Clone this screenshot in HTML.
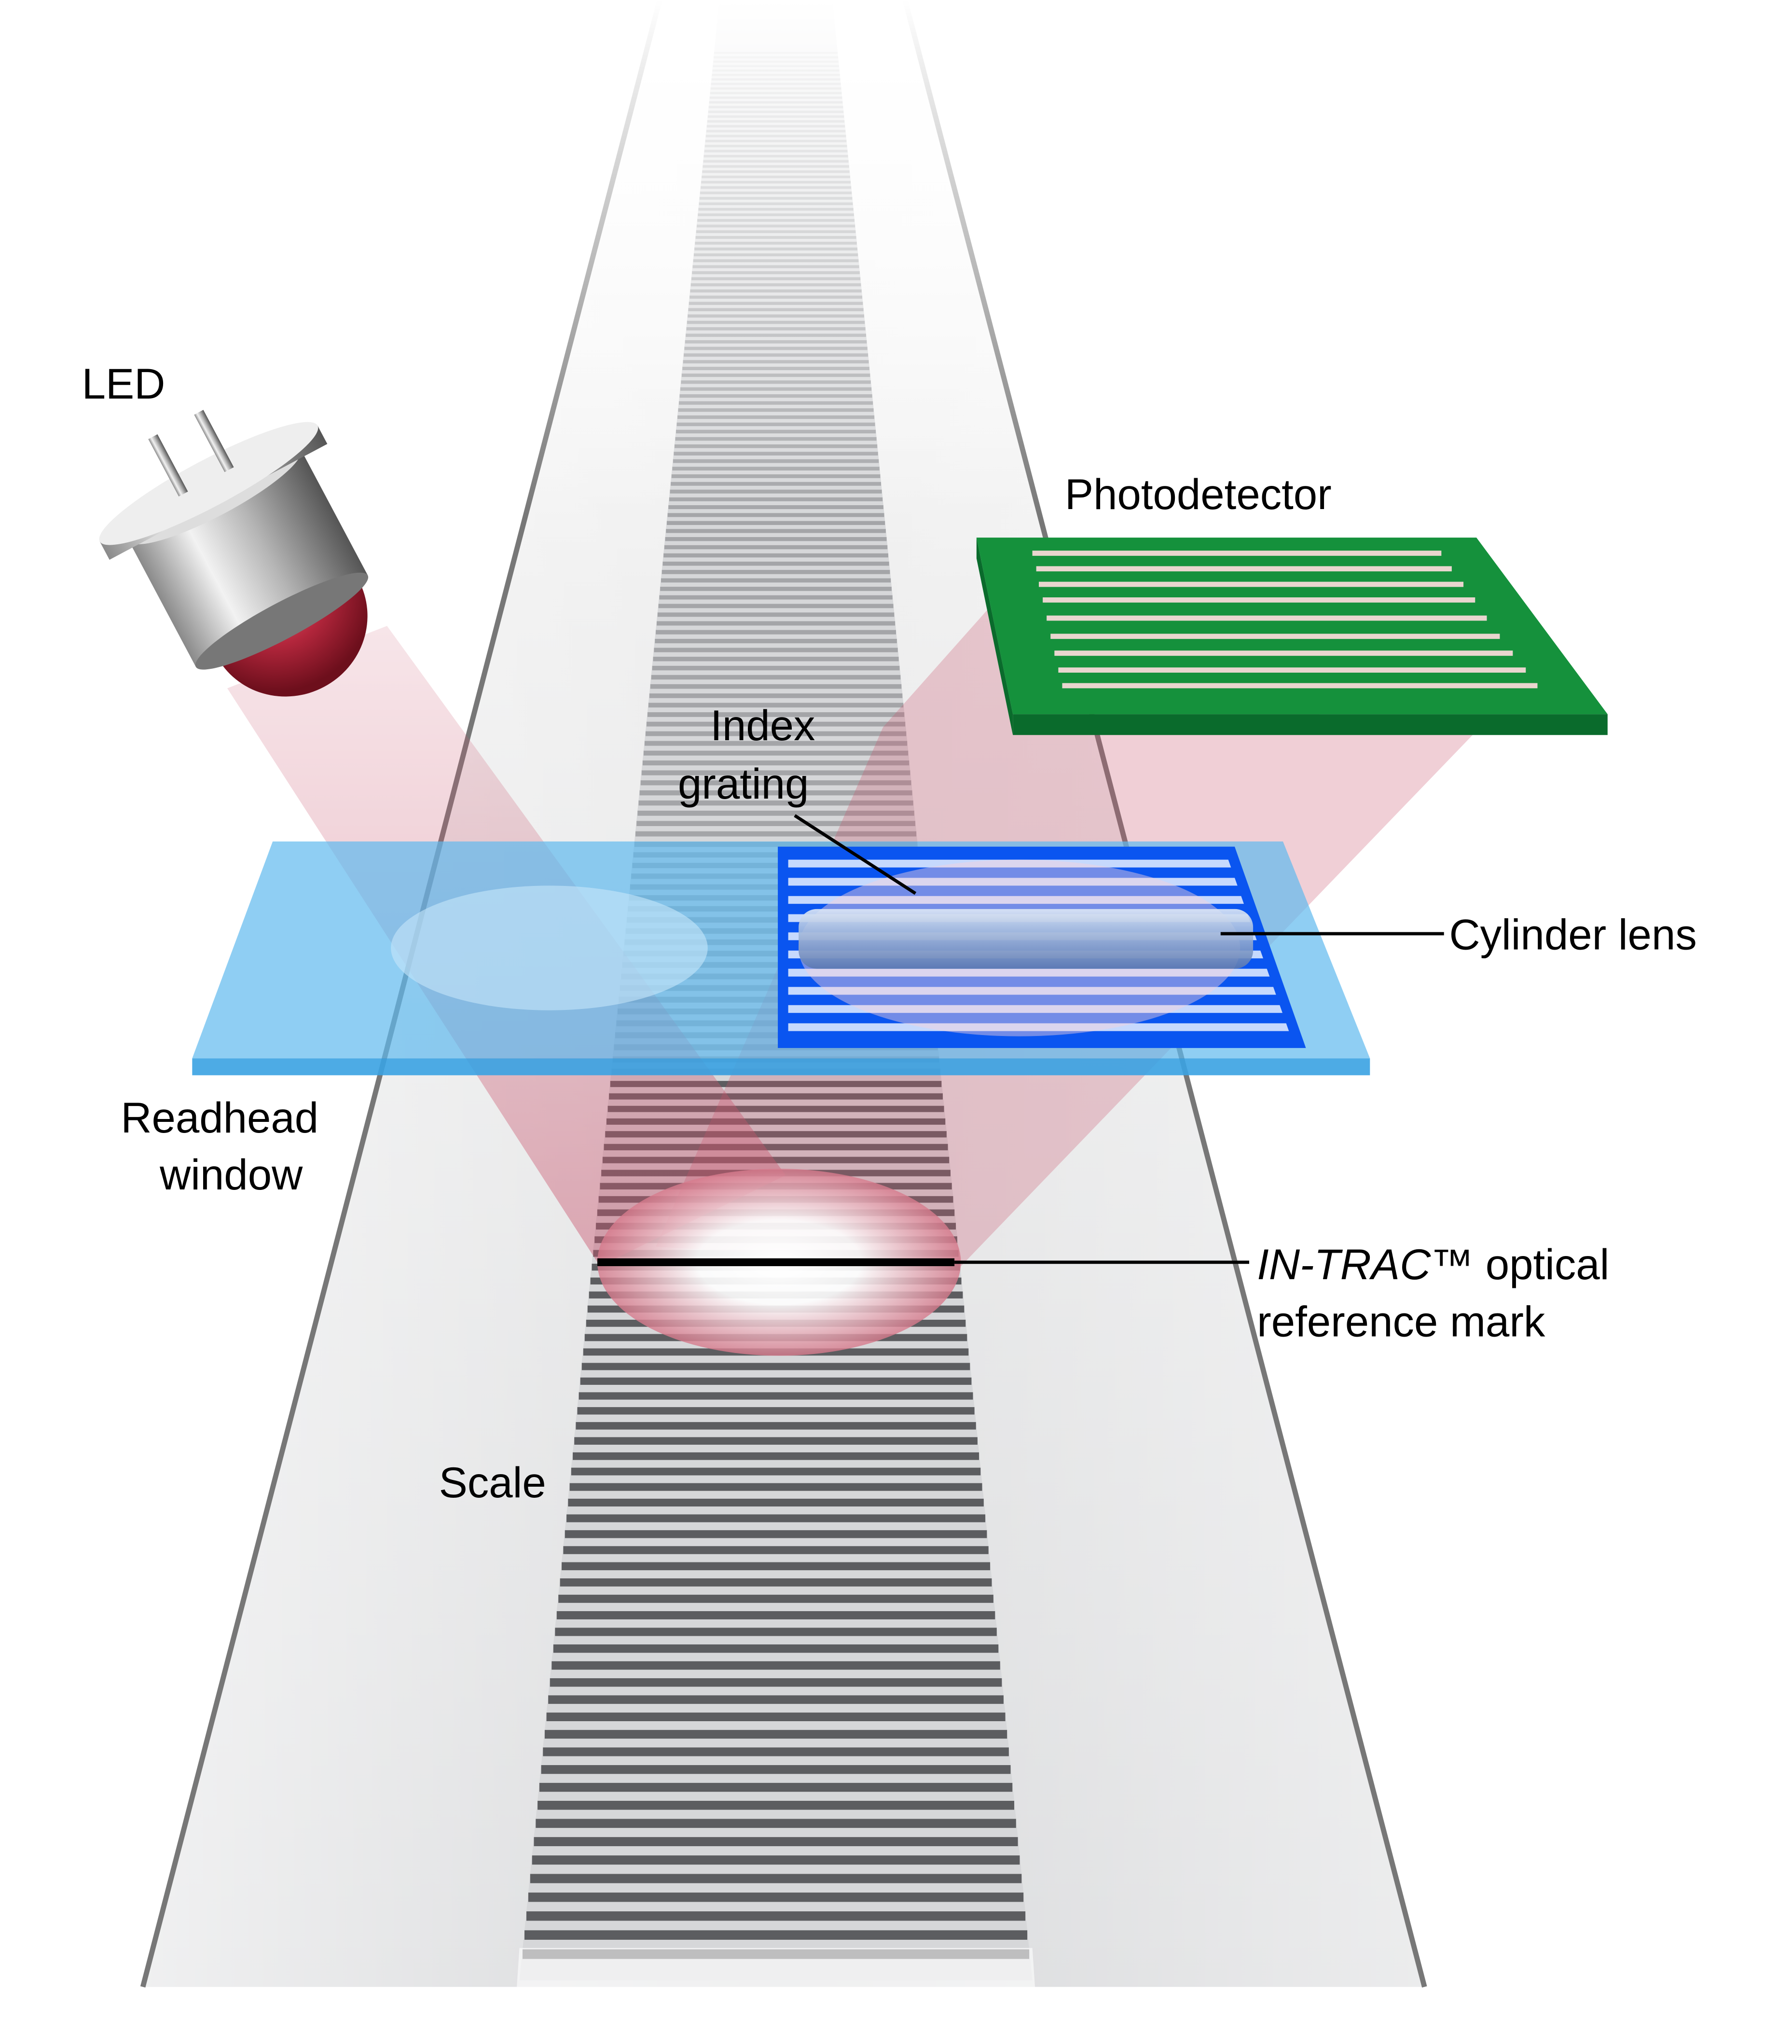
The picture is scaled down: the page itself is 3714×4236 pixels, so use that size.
<!DOCTYPE html>
<html><head><meta charset="utf-8"><style>html,body{margin:0;padding:0;background:#fff}svg{display:block}</style></head>
<body>
<svg width="3714" height="4236" viewBox="0 0 1380 1574" xmlns="http://www.w3.org/2000/svg" font-family="Liberation Sans, sans-serif">
<defs>
<linearGradient id="band" x1="0" y1="0" x2="0" y2="1">
<stop offset="0" stop-color="#fff"/><stop offset="0.3" stop-color="#eeeeee"/><stop offset="1" stop-color="#d8d9db"/></linearGradient>
<linearGradient id="bandH" x1="0" y1="0" x2="1" y2="0">
<stop offset="0" stop-color="#fff" stop-opacity="0.6"/><stop offset="0.5" stop-color="#fff" stop-opacity="0"/><stop offset="1" stop-color="#fff" stop-opacity="0.5"/></linearGradient>
<linearGradient id="fadeTop" x1="0" y1="0" x2="0" y2="1">
<stop offset="0" stop-color="#fff" stop-opacity="1"/><stop offset="1" stop-color="#fff" stop-opacity="0"/></linearGradient>
<linearGradient id="silver" x1="0" y1="0" x2="1" y2="0">
<stop offset="0" stop-color="#8a8a8a"/><stop offset="0.3" stop-color="#f2f2f2"/><stop offset="0.6" stop-color="#b5b5b5"/><stop offset="1" stop-color="#555"/></linearGradient>
<radialGradient id="red" cx="0.5" cy="0.35" r="0.6"><stop offset="0" stop-color="#e06070"/><stop offset="0.5" stop-color="#b3263c"/><stop offset="1" stop-color="#6d0f1c"/></radialGradient>
<radialGradient id="spot" cx="0.5" cy="0.5" r="0.5"><stop offset="0" stop-color="#fff"/><stop offset="0.45" stop-color="#fff" stop-opacity="0.9"/><stop offset="1" stop-color="#d77a8c" stop-opacity="0.8"/></radialGradient>
<linearGradient id="beam1" x1="0" y1="0" x2="0" y2="1"><stop offset="0" stop-color="#c9546d" stop-opacity="0.15"/><stop offset="1" stop-color="#c9546d" stop-opacity="0.45"/></linearGradient>
<linearGradient id="lens" x1="0" y1="0" x2="0" y2="1"><stop offset="0" stop-color="#dfe9f7"/><stop offset="0.35" stop-color="#a9bfdf"/><stop offset="1" stop-color="#5a78b0"/></linearGradient>
<pattern id="grat" width="20" height="14" patternUnits="userSpaceOnUse"><rect width="20" height="14" fill="#0a55f0"/><rect y="4" width="20" height="6" fill="#e8f0ff" opacity="0.85"/></pattern>
</defs>
<rect width="1380" height="1574" fill="#fff"/>
<polygon points="508,0 697,0 1097,1530 110,1530" fill="url(#band)"/>
<polygon points="508,0 697,0 1097,1530 110,1530" fill="url(#bandH)"/>
<line x1="508" y1="0" x2="110" y2="1530" stroke="#777" stroke-width="4"/>
<line x1="697" y1="0" x2="1097" y2="1530" stroke="#777" stroke-width="4"/>
<polygon points="554,0 641,0 795,1525 400,1525" fill="#d6d7d9"/>
<g id="grads"></g>
<script>
(function(){var g=document.getElementById('grads');var y=40,s=3;var ns='http://www.w3.org/2000/svg';while(y<1515){var t=y/1525;var xl=554-154*t,xr=641+154*t;var w=Math.max(1,s*0.5);var l=document.createElementNS(ns,'rect');l.setAttribute('x',xl);l.setAttribute('y',y);l.setAttribute('width',xr-xl);l.setAttribute('height',w);l.setAttribute('fill',y<830?'#a4a5a8':'#5c5d60');g.appendChild(l);s=3+t*12;y+=s;}})();
</script>
<rect x="0" y="0" width="1380" height="400" fill="url(#fadeTop)"/>
<polygon points="400,1500 795,1500 800,1574 395,1574" fill="#fff" opacity="0.6"/>
<polygon points="175,530 298,482 605,905 462,975" fill="url(#beam1)"/>
<polygon points="505,960 740,975 1135,565 1000,548 760,470 680,560" fill="#c9546d" opacity="0.28"/>
<ellipse cx="600" cy="972" rx="140" ry="72" fill="url(#spot)"/>
<line x1="460" y1="972" x2="735" y2="972" stroke="#000" stroke-width="6"/>
<polygon points="210,648 988,648 1055,815 148,815" fill="#5fb9ee" opacity="0.7"/>
<polygon points="148,815 1055,815 1055,828 148,828" fill="#3aa2e2" opacity="0.9"/>
<ellipse cx="423" cy="730" rx="122" ry="48" fill="#c7e6fa" opacity="0.6"/>
<polygon points="603,656 948,656 1000,803 603,803" fill="url(#grat)"/>
<polygon points="603,656 948,656 1000,803 603,803" fill="none" stroke="#0a55f0" stroke-width="8"/>
<ellipse cx="785" cy="730" rx="170" ry="68" fill="#f3d0dc" opacity="0.45"/>
<rect x="615" y="700" width="350" height="46" rx="14" fill="url(#lens)" opacity="0.9"/>
<polygon points="780,550 1238,550 1238,566 780,566" fill="#0a6b2c"/>
<polygon points="752,414 780,550 780,566 752,430" fill="#0a6b2c"/>
<polygon points="752,414 1137,414 1238,550 780,550" fill="#15913c"/>
<g stroke="#e9d6cf" stroke-width="4">
<line x1="795" y1="426" x2="1110" y2="426"/><line x1="798" y1="438" x2="1118" y2="438"/><line x1="800" y1="450" x2="1127" y2="450"/><line x1="803" y1="462" x2="1136" y2="462"/><line x1="806" y1="476" x2="1145" y2="476"/><line x1="809" y1="490" x2="1155" y2="490"/><line x1="812" y1="503" x2="1165" y2="503"/><line x1="815" y1="516" x2="1175" y2="516"/><line x1="818" y1="528" x2="1184" y2="528"/>
</g>
<g transform="rotate(-28 180 430)">
<ellipse cx="195" cy="490" rx="62" ry="60" fill="url(#red)"/>
<rect x="115" y="380" width="150" height="110" fill="url(#silver)"/>
<ellipse cx="190" cy="490" rx="75" ry="14" fill="#777"/>
<ellipse cx="190" cy="380" rx="75" ry="16" fill="#ddd"/>
<rect x="95" y="370" width="190" height="16" fill="url(#silver)"/>
<ellipse cx="190" cy="370" rx="95" ry="18" fill="#eee"/>
<rect x="165" y="318" width="8" height="50" fill="url(#silver)"/>
<rect x="205" y="318" width="8" height="50" fill="url(#silver)"/>
</g>
<g stroke="#000" stroke-width="2.5">
<line x1="612" y1="628" x2="705" y2="688"/>
<line x1="940" y1="719" x2="1112" y2="719"/>
<line x1="735" y1="972" x2="962" y2="972"/>
</g>
<g font-size="33" fill="#000">
<text x="63" y="307">LED</text>
<text x="820" y="392">Photodetector</text>
<text x="547" y="570">Index</text>
<text x="522" y="615">grating</text>
<text x="1116" y="731">Cylinder lens</text>
<text x="93" y="872">Readhead</text>
<text x="123" y="916">window</text>
<text x="968" y="985"><tspan font-style="italic">IN-TRAC</tspan>™ optical</text>
<text x="968" y="1029">reference mark</text>
<text x="338" y="1153">Scale</text>
</g>
</svg>
</body></html>
